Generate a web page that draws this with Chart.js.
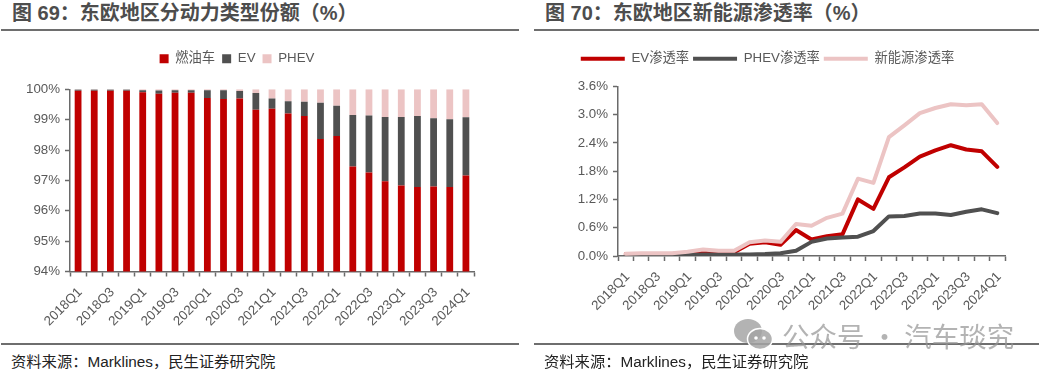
<!DOCTYPE html>
<html>
<head>
<meta charset="utf-8">
<script src="https://cdn.jsdelivr.net/npm/chart.js@4/dist/chart.umd.min.js"></script>
<style>
    body { margin: 0; background: #fff; width: 1047px; height: 378px; overflow: hidden; position: relative; font-family: "Liberation Sans", "Noto Sans CJK SC", sans-serif; }
    canvas { position: absolute; top: 0; }
    .title { position: absolute; top: 1px; font-size: 20px; line-height: 25px; font-weight: bold; color: #4d4d4d; white-space: nowrap; }
    .rule { position: absolute; height: 2px; background: #6e6e6e; }
    .source { position: absolute; top: 352px; font-size: 15.3px; line-height: 20px; color: #222; white-space: nowrap; }
    .mark { position: absolute; left: 782px; top: 317px; font-size: 27.5px; line-height: 36px; color: rgba(150,150,150,0.72); white-space: nowrap; font-family: "Noto Sans CJK SC", sans-serif; }
    svg { position: absolute; left: 734px; top: 319px; }
</style>
</head>
<body>
<div class="title" style="left:12px">图 69：东欧地区分动力类型份额（%）</div>
<div class="title" style="left:545px">图 70：东欧地区新能源渗透率（%）</div>
<div class="rule" style="left:1px;width:518px;top:29px"></div>
<div class="rule" style="left:534px;width:505px;top:29px"></div>
<canvas id="shareChart" width="538" height="340" style="left:0"></canvas>
<canvas id="rateChart" width="547" height="340" style="left:530px"></canvas>
<div class="rule" style="left:1px;width:518px;top:343px"></div>
<div class="rule" style="left:534px;width:505px;top:343px"></div>
<div class="source" style="left:11px">资料来源：Marklines，民生证券研究院</div>
<div class="source" style="left:544px">资料来源：Marklines，民生证券研究院</div>
<svg width="40" height="32" viewBox="0 0 40 32">
    <ellipse cx="14" cy="12" rx="14" ry="12" fill="rgba(150,150,150,0.72)"/>
    <ellipse cx="26" cy="20" rx="12.5" ry="10.5" fill="rgba(165,165,165,0.85)" stroke="#fff" stroke-width="1.5"/>
    <circle cx="22" cy="19" r="1.8" fill="#fff"/>
    <circle cx="30" cy="19" r="1.8" fill="#fff"/>
</svg>
<div class="mark">公众号 · 汽车琰究</div>

<script>
const quarters = ['2018Q1','2018Q2','2018Q3','2018Q4','2019Q1','2019Q2','2019Q3','2019Q4','2020Q1','2020Q2','2020Q3','2020Q4','2021Q1','2021Q2','2021Q3','2021Q4','2022Q1','2022Q2','2022Q3','2022Q4','2023Q1','2023Q2','2023Q3','2023Q4','2024Q1'];

// Figure 69, share by powertrain (%)
const fuelShare = [99.95,99.95,99.95,99.95,99.90,99.85,99.89,99.89,99.71,99.68,99.70,99.33,99.36,99.20,99.12,98.36,98.46,97.46,97.26,96.97,96.83,96.78,96.80,96.78,97.16];
const evShare = [0.04,0.04,0.04,0.04,0.07,0.11,0.08,0.08,0.26,0.29,0.24,0.55,0.34,0.41,0.47,1.20,1.00,1.69,1.88,2.12,2.26,2.34,2.25,2.23,1.92];
const phevShare = [0.01,0.01,0.01,0.01,0.03,0.04,0.03,0.03,0.03,0.03,0.06,0.12,0.30,0.39,0.41,0.44,0.54,0.85,0.86,0.91,0.91,0.88,0.95,0.99,0.92];

// Figure 70, penetration rate (%)
const evRate = [0.04,0.04,0.04,0.04,0.07,0.11,0.08,0.08,0.26,0.29,0.24,0.55,0.35,0.42,0.46,1.20,1.00,1.67,1.88,2.11,2.24,2.35,2.26,2.22,1.89];
const phevRate = [0.01,0.01,0.01,0.01,0.02,0.03,0.03,0.03,0.03,0.04,0.06,0.11,0.30,0.37,0.39,0.41,0.53,0.84,0.85,0.90,0.90,0.87,0.94,0.99,0.91];
const nevRate = [0.05,0.06,0.06,0.06,0.09,0.14,0.11,0.11,0.29,0.33,0.30,0.68,0.64,0.81,0.90,1.64,1.55,2.52,2.77,3.03,3.14,3.22,3.20,3.22,2.82];

const red = '#c00000';
const gray = '#505050';
const pink = '#ecc4c4';
const textColor = '#595959';
const tickFont = { family: '"Liberation Sans", "Noto Sans CJK SC", sans-serif', size: 13.3 };

// Legend.fit is wrapped so the plot top can sit lower than the legend
function legendGapPlugin(gap) {
    return {
        id: 'legendGap',
        beforeInit(chart) {
            const fit = chart.legend.fit;
            chart.legend.fit = function() {
                fit.call(this);
                this.height += gap;
            };
        }
    };
}

function xAxis(height) {
    return {
        offset: true,
        stacked: true,
        afterFit(scale) { scale.height = height; },
        border: { color: '#6a6a6a', width: 1.5 },
        grid: { drawOnChartArea: false, offset: true, tickLength: 5, color: '#6a6a6a', tickWidth: 1.5 },
        ticks: {
            autoSkip: false, maxRotation: 45, minRotation: 45, color: textColor, font: tickFont, padding: 8, labelOffset: 2,
            callback(value, index) { return index % 2 === 0 ? quarters[index] : ''; }
        }
    };
}

function yAxis(width, min, max, step, digits) {
    return {
        min: min, max: max,
        afterFit(scale) { scale.width = width; },
        border: { color: '#6a6a6a', width: 1.5 },
        grid: { drawOnChartArea: false, tickLength: 5, color: '#6a6a6a', tickWidth: 1.5 },
        ticks: {
            stepSize: step, color: textColor, font: tickFont, padding: 5,
            callback(value) { return value.toFixed(digits) + '%'; }
        }
    };
}

new Chart(document.getElementById('shareChart'), {
    type: 'bar',
    data: {
        labels: quarters,
        datasets: [
            { label: '燃油车', data: fuelShare, backgroundColor: red },
            { label: 'EV', data: evShare, backgroundColor: gray },
            { label: 'PHEV', data: phevShare, backgroundColor: pink }
        ]
    },
    options: {
        responsive: false,
        animation: false,
        datasets: { bar: { categoryPercentage: 1, barPercentage: 0.42 } },
        layout: { padding: { top: 45, right: 64, left: 0, bottom: 0 } },
        scales: {
            x: xAxis(68.5),
            y: Object.assign(yAxis(70, 94, 100, 1, 0), { stacked: true })
        },
        plugins: {
            tooltip: { enabled: false },
            legend: {
                position: 'top',
                labels: { boxWidth: 9, boxHeight: 9, padding: 7, color: textColor, font: tickFont }
            }
        }
    },
    plugins: [legendGapPlugin(14)]
});

new Chart(document.getElementById('rateChart'), {
    type: 'line',
    data: {
        labels: quarters,
        datasets: [
            { label: 'EV渗透率', data: evRate, borderColor: red, backgroundColor: red, order: 3 },
            { label: 'PHEV渗透率', data: phevRate, borderColor: gray, backgroundColor: gray, order: 2 },
            { label: '新能源渗透率', data: nevRate, borderColor: pink, backgroundColor: pink, order: 1 }
        ]
    },
    options: {
        responsive: false,
        animation: false,
        datasets: { line: { borderWidth: 4, pointRadius: 0, tension: 0, borderCapStyle: 'round', borderJoinStyle: 'round' } },
        layout: { padding: { top: 48, right: 72, left: 0, bottom: 0 } },
        scales: {
            x: Object.assign(xAxis(84), { stacked: false }),
            y: yAxis(88, 0, 3.6, 0.6, 1)
        },
        plugins: {
            tooltip: { enabled: false },
            legend: {
                position: 'top',
                labels: {
                    usePointStyle: true, pointStyle: 'line', pointStyleWidth: 44, padding: 4, color: textColor, font: tickFont,
                    sort: (a, b) => a.datasetIndex - b.datasetIndex
                }
            }
        }
    },
    plugins: [legendGapPlugin(11)]
});
</script>
</body>
</html>
